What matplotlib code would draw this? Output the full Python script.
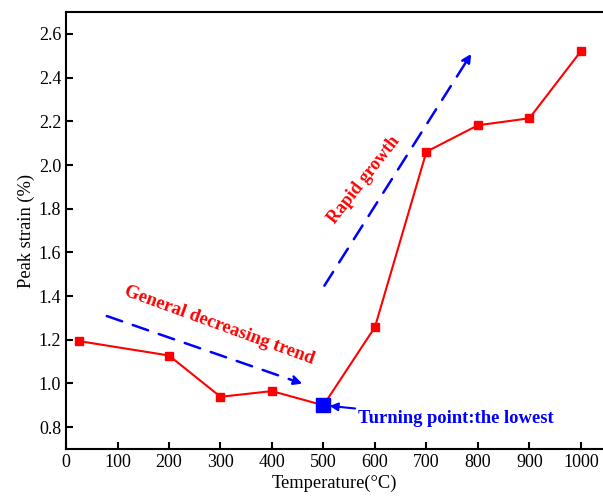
import matplotlib.pyplot as plt

temperature = [25, 200, 300, 400, 500, 600, 700, 800, 900, 1000]
peak_strain = [1.194, 1.128, 0.939, 0.965, 0.90, 1.258, 2.061, 2.182, 2.214, 2.521]
x_ticks = [0, 100, 200, 300, 400, 500, 600, 700, 800, 900, 1000]
y_ticks = [0.8, 1.0, 1.2, 1.4, 1.6, 1.8, 2.0, 2.2, 2.4, 2.6]

plt.rcParams['font.family'] = ['Liberation Serif', 'DejaVu Serif']

fig = plt.figure(figsize=(6.03, 5.01), dpi=100)
ax = fig.add_axes([0.1095, 0.1038, 0.8905, 0.872])

ax.plot(temperature, peak_strain, color='red', lw=1.5, marker='s', ms=6, zorder=3)
# lowest point
ax.plot(temperature[4], peak_strain[4], marker='s', ms=10, color='blue', ls='none', zorder=4)

# dashed trend arrows
dash = (0, (6.5, 4.5))
ax.annotate('', xy=(464, 0.995), xytext=(74, 1.313),
            arrowprops=dict(arrowstyle='-|>', color='blue', lw=1.8, ls=dash, mutation_scale=14))
ax.annotate('', xy=(790, 2.52), xytext=(499, 1.437),
            arrowprops=dict(arrowstyle='-|>', color='blue', lw=1.8, ls=dash, mutation_scale=14))
ax.annotate('Turning point:the lowest', xy=(512, 0.897), xytext=(567, 0.84),
            color='blue', fontsize=13.4, fontweight='bold', va='center', ha='left',
            arrowprops=dict(arrowstyle='-|>', color='blue', lw=1.5, mutation_scale=12, shrinkA=0, shrinkB=0))

ax.text(298, 1.268, 'General decreasing trend', color='red', fontsize=13.4, fontweight='bold',
        rotation=-20, ha='center', va='center')
ax.text(578, 1.93, 'Rapid growth', color='red', fontsize=13, fontweight='bold',
        rotation=52, ha='center', va='center')

ax.set_xlim(0, 1043)
ax.set_ylim(0.7, 2.7)
ax.set_xticks(x_ticks)
ax.set_yticks(y_ticks)
ax.set_yticklabels([f'{v:.1f}' for v in y_ticks])
ax.tick_params(direction='in', length=5, width=1.5, labelsize=13, top=False, right=False)
for s in ax.spines.values():
    s.set_linewidth(1.5)
ax.spines['right'].set_visible(False)
ax.set_xlabel('Temperature(\u00b0C)', fontsize=13.3, labelpad=3)
ax.set_ylabel('Peak strain (%)', fontsize=13.3, labelpad=3)

fig.savefig('out.png', dpi=100)
